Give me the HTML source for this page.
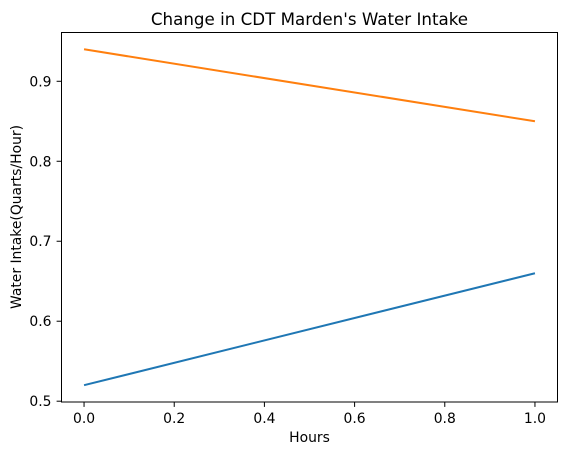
<!DOCTYPE html>
<html><head><meta charset="utf-8"><style>
body{margin:0;background:#fff}
svg text{font-family:"DejaVu Sans","Liberation Sans",sans-serif;fill:#000}
</style></head><body>
<svg width="567" height="455" xmlns="http://www.w3.org/2000/svg">
<text x="309.5" y="25" font-size="16.7" text-anchor="middle">Change in CDT Marden's Water Intake</text>
<g id="plot"></g>
<rect x="61.5" y="32.5" width="496" height="369.5" fill="none" stroke="#000" stroke-width="1"/>
<text x="309.5" y="442" font-size="13.9" text-anchor="middle">Hours</text>
<text transform="translate(21,217) rotate(-90)" font-size="13.9" text-anchor="middle">Water Intake(Quarts/Hour)</text>
</svg>
<script>
const xs=[0,1];
const series1=[0.52,0.66];
const series2=[0.94,0.85];
const xTicks=[0,0.2,0.4,0.6,0.8,1.0];
const yTicks=[0.5,0.6,0.7,0.8,0.9];
const L=61.5,R=557.5,T=32.5,B=402;
const xmin=-0.05,xmax=1.05,ymin=0.499,ymax=0.961;
const sx=v=>L+(v-xmin)/(xmax-xmin)*(R-L);
const sy=v=>B-(v-ymin)/(ymax-ymin)*(B-T);
const g=document.getElementById('plot');
const NS='http://www.w3.org/2000/svg';
function mk(t,a){const e=document.createElementNS(NS,t);for(const k in a)e.setAttribute(k,a[k]);g.appendChild(e);return e;}
xTicks.forEach(v=>{
 const l=mk('line',{x1:sx(v),x2:sx(v),y1:B,y2:B+4.9,stroke:'#000'});
 
 
 const t=mk('text',{x:sx(v),y:B+21,'font-size':13.9,'text-anchor':'middle'});
 t.textContent=v.toFixed(1);
 
 
});
yTicks.forEach(v=>{
 const l=mk('line',{x1:L-4.9,x2:L,y1:sy(v),y2:sy(v),stroke:'#000'});
 
 
 const t=mk('text',{x:L-10,y:sy(v)+5,'font-size':13.9,'text-anchor':'end'});
 t.textContent=v.toFixed(1);
 
 
});
[[series1,'#1f77b4','series-1-line'],[series2,'#ff7f0e','series-2-line']].forEach(([s,c,n])=>{
 const p=mk('polyline',{points:xs.map((x,i)=>sx(x)+','+sy(s[i])).join(' '),fill:'none',stroke:c,'stroke-width':2});
 
 
});
</script>
</body></html>
